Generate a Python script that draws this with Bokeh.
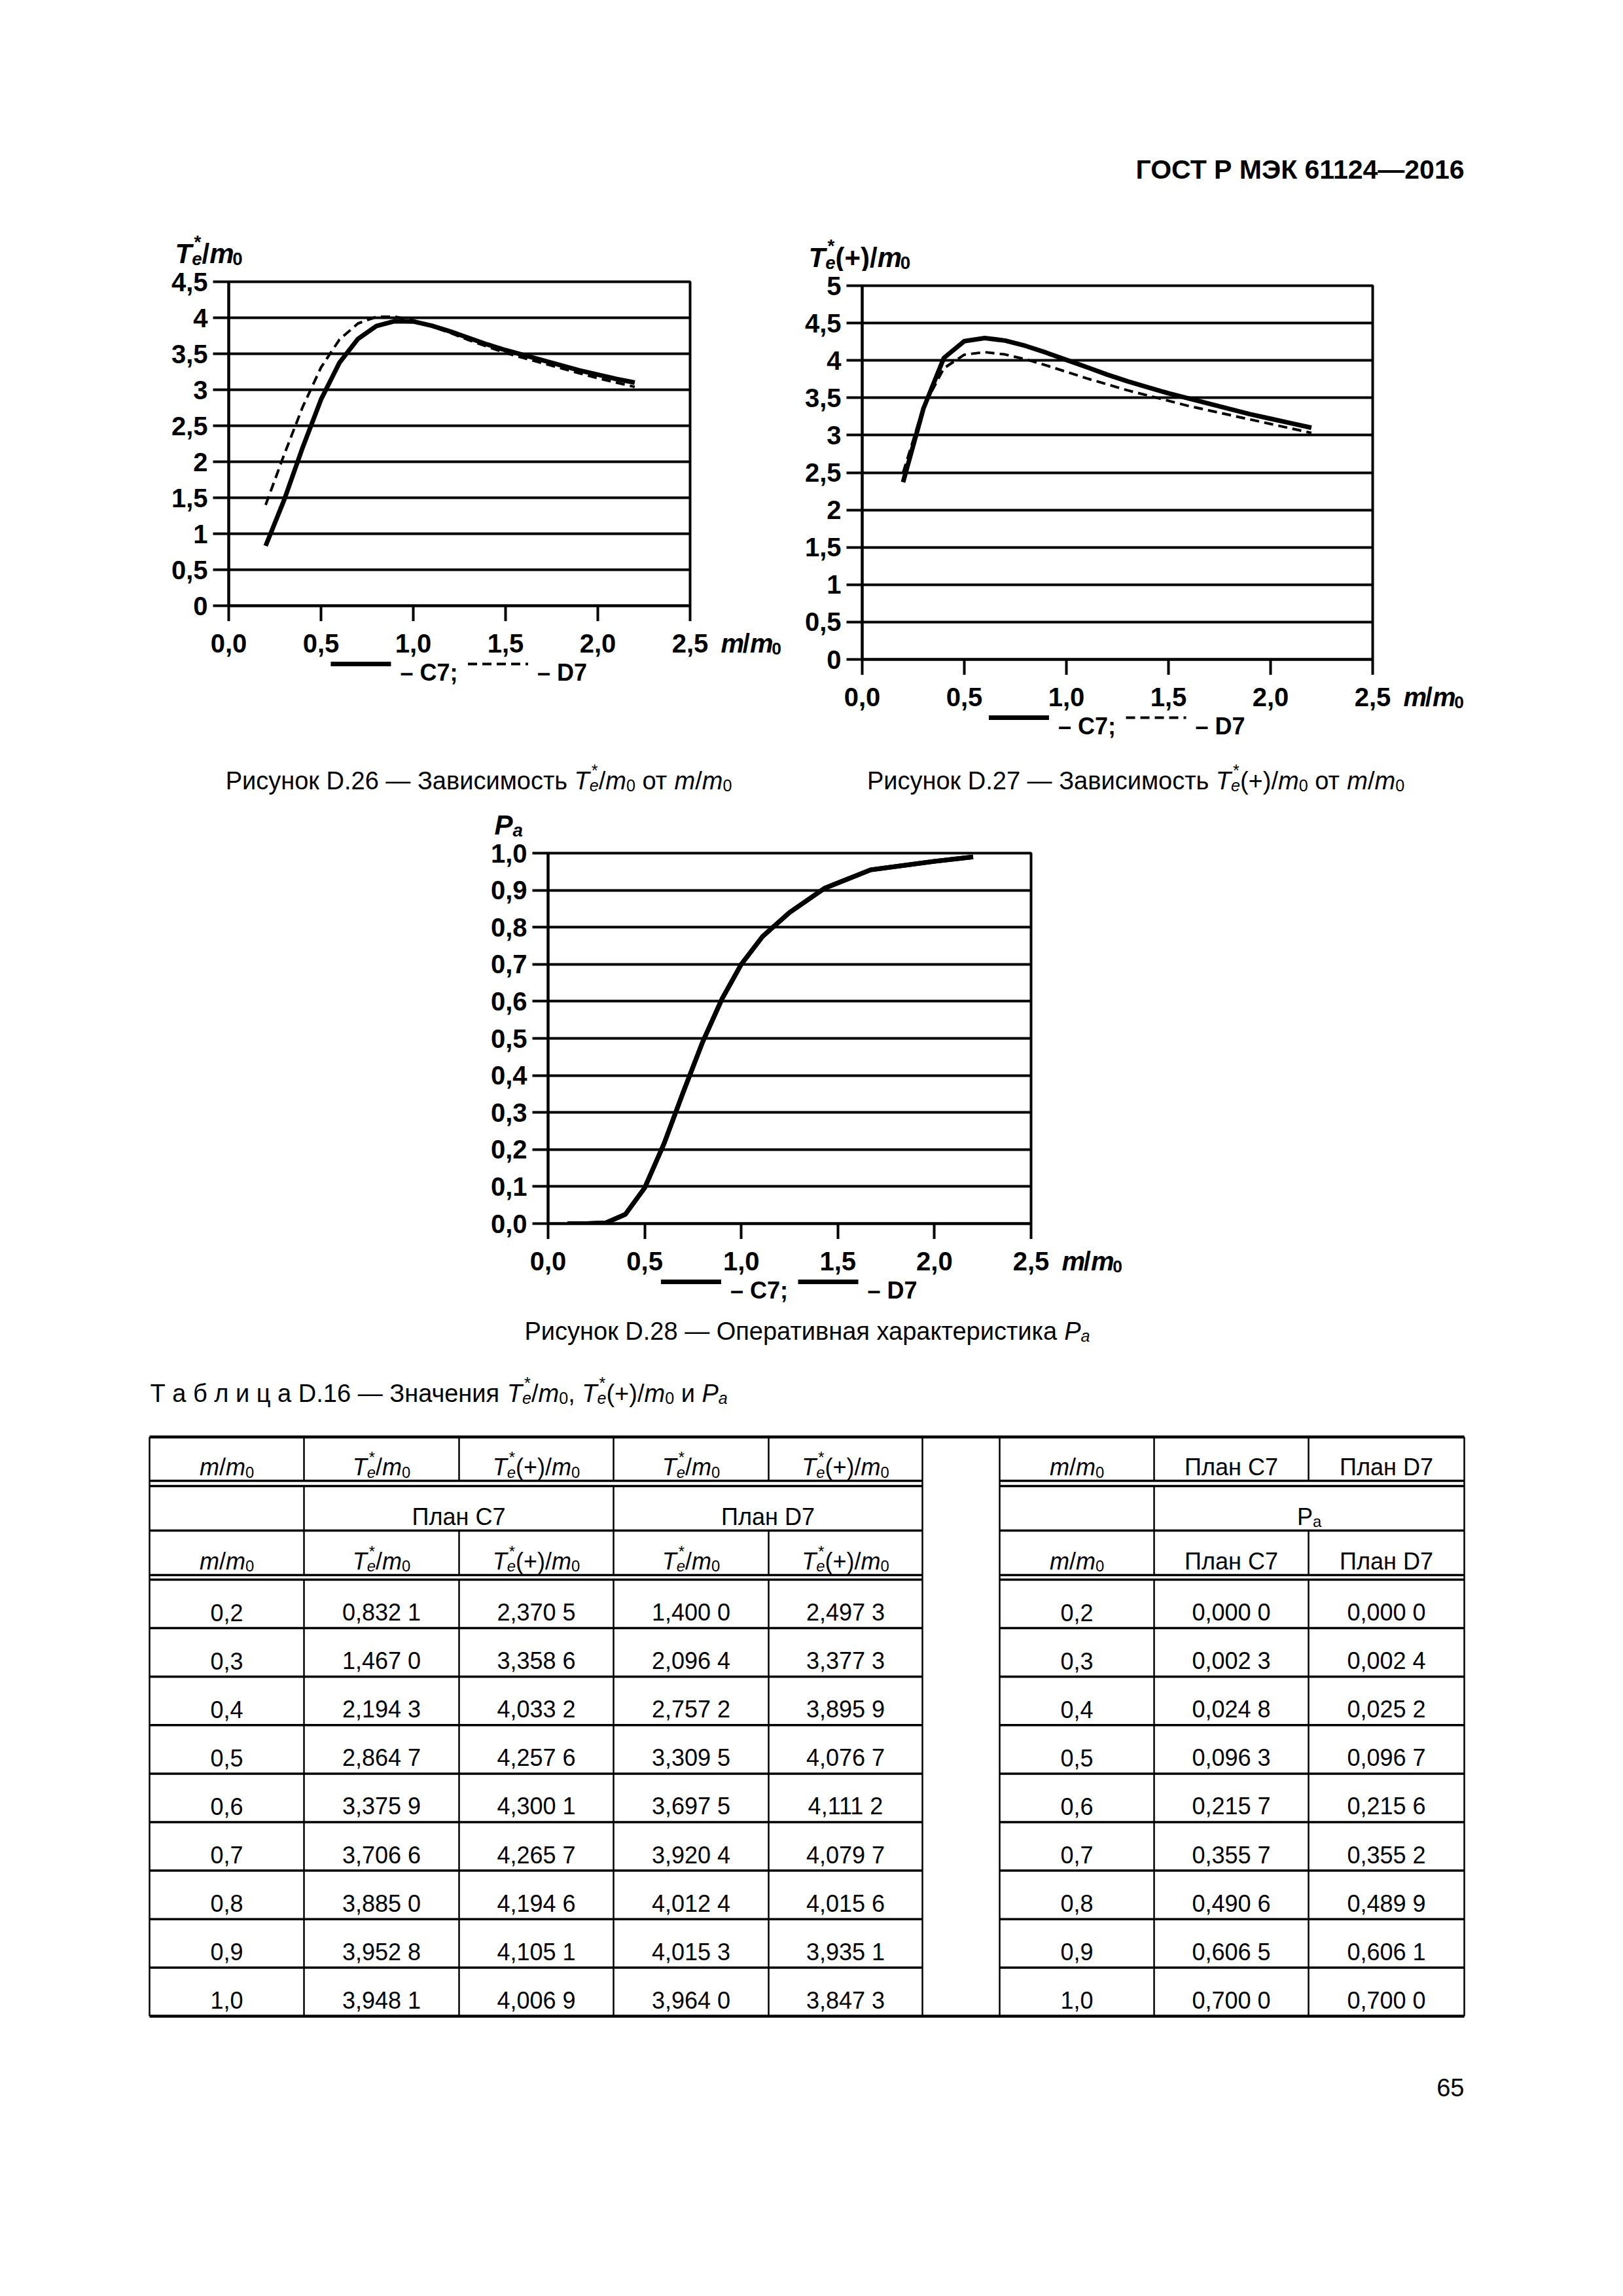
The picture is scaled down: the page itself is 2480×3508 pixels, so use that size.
from bokeh.plotting import figure
from bokeh.models import (Range1d, LinearAxis, FixedTicker, CustomJSTickFormatter, Grid, Spacer)
from bokeh.layouts import column, row
from bokeh.core.properties import value
from bokeh.embed import file_html
from bokeh.resources import INLINE

FONT = "Liberation Sans"

# ---------------- data ----------------
tbl_m = [0.2, 0.3, 0.4, 0.5, 0.6, 0.7, 0.8, 0.9, 1.0]
tbl_te_c7 = [0.8321, 1.4670, 2.1943, 2.8647, 3.3759, 3.7066, 3.8850, 3.9528, 3.9481]
tbl_tep_c7 = [2.3705, 3.3586, 4.0332, 4.2576, 4.3001, 4.2657, 4.1946, 4.1051, 4.0069]
tbl_te_d7 = [1.4000, 2.0964, 2.7572, 3.3095, 3.6975, 3.9204, 4.0124, 4.0153, 3.9640]
tbl_tep_d7 = [2.4973, 3.3773, 3.8959, 4.0767, 4.1112, 4.0797, 4.0156, 3.9351, 3.8473]
tbl_pa_c7 = [0.0000, 0.0023, 0.0248, 0.0963, 0.2157, 0.3557, 0.4906, 0.6065, 0.7000]
tbl_pa_d7 = [0.0000, 0.0024, 0.0252, 0.0967, 0.2156, 0.3552, 0.4899, 0.6061, 0.7000]

# curve continuation beyond the table
m_ext = [1.1, 1.2, 1.3, 1.4, 1.5, 1.6, 1.7, 1.8, 1.9, 2.0, 2.1, 2.2]
te_c7_ext = [3.89, 3.81, 3.72, 3.63, 3.55, 3.48, 3.41, 3.34, 3.27, 3.21, 3.15, 3.10]
te_d7_ext = [3.88, 3.79, 3.69, 3.60, 3.51, 3.44, 3.37, 3.30, 3.23, 3.16, 3.10, 3.04]
tep_c7_ext = [3.91, 3.81, 3.72, 3.64, 3.56, 3.49, 3.42, 3.35, 3.28, 3.22, 3.16, 3.10]
tep_d7_ext = [3.76, 3.68, 3.60, 3.53, 3.46, 3.39, 3.33, 3.27, 3.21, 3.15, 3.09, 3.03]
pa_m_lo = [0.1]
pa_lo = [0.0]
pa_m_hi = [1.11, 1.25, 1.43, 1.67, 2.0, 2.2]
pa_c7_hi = [0.775, 0.84, 0.905, 0.955, 0.978, 0.99]
pa_d7_hi = [0.775, 0.84, 0.905, 0.955, 0.978, 0.99]

x_ticks = [0, 0.5, 1.0, 1.5, 2.0, 2.5]
x_tick_labels = ["0,0", "0,5", "1,0", "1,5", "2,0", "2,5"]
y1_ticks = [0, 0.5, 1, 1.5, 2, 2.5, 3, 3.5, 4, 4.5]
y1_labels = ["0", "0,5", "1", "1,5", "2", "2,5", "3", "3,5", "4", "4,5"]
y2_ticks = [0, 0.5, 1, 1.5, 2, 2.5, 3, 3.5, 4, 4.5, 5]
y2_labels = ["0", "0,5", "1", "1,5", "2", "2,5", "3", "3,5", "4", "4,5", "5"]
y3_ticks = [0, 0.1, 0.2, 0.3, 0.4, 0.5, 0.6, 0.7, 0.8, 0.9, 1.0]
y3_labels = ["0,0", "0,1", "0,2", "0,3", "0,4", "0,5", "0,6", "0,7", "0,8", "0,9", "1,0"]
legend_labels = ["– C7;", "– D7"]

m_curve = tbl_m + m_ext
te_c7 = tbl_te_c7 + te_c7_ext
te_d7 = tbl_te_d7 + te_d7_ext
tep_c7 = tbl_tep_c7 + tep_c7_ext
tep_d7 = tbl_tep_d7 + tep_d7_ext
pa_m = pa_m_lo + tbl_m + pa_m_hi
pa_c7 = pa_lo + tbl_pa_c7 + pa_c7_hi
pa_d7 = pa_lo + tbl_pa_d7 + pa_d7_hi

# ---------------- text helpers ----------------
W = {' ': .278, ',': .278, '.': .278, '/': .278, '(': .333, ')': .333, '+': .584, '*': .389,
     '–': .556, '—': 1.0, ';': .3, 'T': .611, 'e': .556, 'm': .833, 'P': .667, 'a': .556,
     'D': .722, 'C': .722,
     'а': .556, 'б': .573, 'в': .531, 'г': .365, 'д': .583, 'е': .556, 'ж': .669, 'з': .458,
     'и': .559, 'й': .559, 'к': .438, 'л': .583, 'м': .688, 'н': .552, 'о': .556, 'п': .542,
     'р': .556, 'с': .5, 'т': .458, 'у': .5, 'ф': .823, 'х': .5, 'ц': .583, 'ч': .521,
     'ш': .802, 'щ': .823, 'ъ': .625, 'ы': .719, 'ь': .521, 'э': .51, 'ю': .75, 'я': .542,
     'Р': .667, 'З': .6, 'О': .778, 'Т': .611, 'П': .719, 'Г': .552, 'С': .722}


def tw(s):
    return sum(W.get(c, .556) for c in s)


SUB = 0.66


def layout_rich(tokens, size, bold=False):
    out = []
    x = 0.0
    for txt, mode, it in tokens:
        st = "italic" if it else "normal"
        if bold:
            st = "bold italic" if it else "bold"
        if mode == "n":
            stripped = txt.lstrip(" ")
            x += (len(txt) - len(stripped)) * W[' '] * size
            out.append((x, 0.0, stripped.rstrip(" "), size, st))
            x += tw(stripped) * size
        elif mode == "sub":
            s = size * SUB
            out.append((x, 0.2 * size, txt, s, st))
            x += tw(txt) * s
        else:  # subsup
            sub, sup = txt
            s = size * SUB
            out.append((x, 0.2 * size, sub, s, st))
            out.append((x + 0.08 * size, -0.42 * size, sup, s, "bold" if bold else "normal"))
            x += max(tw(sub), tw(sup)) * s
    return out, x


TE = [("T", "n", True), (("e", "*"), "subsup", True)]
SL_M0 = [("/", "n", False), ("m", "n", True), ("0", "sub", False)]
PLUS = [("(+)", "n", False)]
PA = [("P", "n", True), ("a", "sub", True)]
MM0 = [("m", "n", True), ("/", "n", False), ("m", "n", True), ("0", "sub", False)]


class Batch:
    def __init__(self):
        self.groups = {}

    def add(self, x, y, s, size, style="normal", align="left"):
        key = (round(size, 1), style, align)
        g = self.groups.setdefault(key, ([], [], []))
        g[0].append(x)
        g[1].append(y)
        g[2].append(s)

    def rich(self, tokens, x, y, size, align="left", kx=1.0, bold=False):
        pieces, w = layout_rich(tokens, size, bold)
        if align == "center":
            x -= w / 2 * kx
        elif align == "right":
            x -= w * kx
        for dx, dy, t, s, st in pieces:
            self.add(x + dx * kx, y + dy, t, s, st)

    def flush(self, p):
        for (size, style, align), (xs, ys, ts) in self.groups.items():
            p.text(x=xs, y=ys, text=ts, text_font=value(FONT), text_font_size=f"{size}px",
                   text_font_style=style, text_align=align, text_baseline="alphabetic",
                   text_color="black")


def blank_fig(w, h, xr, yr):
    p = figure(width=int(w), height=int(h), x_range=Range1d(*xr), y_range=Range1d(*yr),
               x_axis_type=None, y_axis_type=None, output_backend="svg",
               toolbar_location=None, min_border=0)
    p.outline_line_color = None
    p.background_fill_color = "white"
    p.border_fill_color = "white"
    return p


def text_fig(ox, oy, w, h):
    """A blank canvas whose data coordinates are page pixels (y downwards)."""
    return blank_fig(w, h, (ox, ox + w), (oy + h, oy))


def fmt(ticks, labels):
    return CustomJSTickFormatter(args=dict(tv=ticks, tl=labels), code="""
        const i = tv.findIndex(t => Math.abs(t - tick) < 1e-6);
        return i < 0 ? '' : tl[i];""")


TICK_FS = 40
LEG_FS = 36
LEG_GLYPH = 92
LEG_STANDOFF = 14
LEG_SPACING = 15


def chart_block(ox, oy, w, h, L, R, T, B, xr, yr, yt, ytl, ytitle, series):
    fig_top = T - 22
    fig_bot = B + 24

    # title strip above the frame
    title = text_fig(ox, oy, w, fig_top - oy)
    tb = Batch()
    tb.rich(ytitle, L - 82, T - 43, 42, bold=True)
    tb.flush(title)

    # the chart itself
    p = figure(width=w, height=fig_bot - fig_top, x_range=Range1d(*xr),
               y_range=Range1d(*yr), x_axis_type=None, y_axis_type=None,
               output_backend="svg", toolbar_location=None)
    p.min_border_left = L - ox
    p.min_border_right = ox + w - R
    p.min_border_top = T - fig_top
    p.min_border_bottom = fig_bot - B
    p.background_fill_color = "white"
    p.border_fill_color = "white"
    p.outline_line_color = "black"
    p.outline_line_width = 4
    xa = LinearAxis(ticker=FixedTicker(ticks=x_ticks),
                    formatter=CustomJSTickFormatter(code="return '';"))
    ya = LinearAxis(ticker=FixedTicker(ticks=yt), formatter=fmt(yt, ytl))
    for a in (xa, ya):
        a.axis_line_color = "black"
        a.axis_line_width = 4
        a.major_tick_line_color = "black"
        a.major_tick_line_width = 4
        a.major_tick_out = 24
        a.major_tick_in = 0
        a.minor_tick_out = 0
        a.minor_tick_in = 0
        a.major_label_text_font = FONT
        a.major_label_text_font_style = "bold"
        a.major_label_text_color = "black"
    xa.major_label_text_font_size = "0px"
    xa.major_label_standoff = 0
    ya.major_label_text_font_size = f"{TICK_FS}px"
    ya.major_label_standoff = 8
    p.add_layout(xa, "below")
    p.add_layout(ya, "left")
    p.add_layout(Grid(dimension=1, ticker=ya.ticker, grid_line_color="black", grid_line_width=4))
    for xs, ys, style in series:
        p.line(xs, ys, line_color="black", line_join="round", **style)

    # strip below: x tick labels (same x scale as the chart), axis title, legend
    k = (xr[1] - xr[0]) / (R - L)
    xd0 = xr[0] - (L - ox) * k
    xd1 = xr[0] + (ox + w - L) * k
    sh = oy + h - fig_bot
    strip = blank_fig(w, sh, (xd0, xd1), (oy + h, fig_bot))
    sb = Batch()
    for t, lab in zip(x_ticks, x_tick_labels):
        sb.add(t, B + 57, lab, TICK_FS, "bold", "center")
    sb.rich(MM0, xr[1] + 47 * k, B + 57, 40, kx=k, bold=True)
    widths = [tw(t) * LEG_FS * 1.02 for t in legend_labels]
    total = 2 * LEG_GLYPH + 2 * LEG_STANDOFF + sum(widths) + LEG_SPACING
    x = (L + R) / 2 - total / 2
    cy = B + 89
    for (xs, ys, style), lab, wl in zip(series, legend_labels, widths):
        gx0 = xr[0] + (x - L) * k
        strip.line([gx0, gx0 + LEG_GLYPH * k], [cy, cy], line_color="black", **style)
        sb.add(gx0 + (LEG_GLYPH + LEG_STANDOFF) * k, cy + 13, lab, LEG_FS, "bold")
        x += LEG_GLYPH + LEG_STANDOFF + wl + LEG_SPACING
    sb.flush(strip)

    # wrap each piece in its own row so the layout does not align their frames
    return column(row(title), row(p), row(strip))


SOLID = dict(line_width=7)
DASHED = dict(line_width=4, line_dash="14 8")

# ---------------- page top ----------------
top = text_fig(8, 8, 2464, 332)
tb = Batch()
tb.add(2245, 266, "ГОСТ Р МЭК 61124—2016", 41, "bold", "right")
tb.flush(top)

# ---------------- charts D.26 and D.27 ----------------
blk1 = chart_block(8, 340, 1222, 820, 357, 1062, 438, 933, (0, 2.5), (0, 4.5), y1_ticks,
                   y1_labels, TE + SL_M0,
                   [(m_curve, te_c7, SOLID), (m_curve, te_d7, DASHED)])
blk2 = chart_block(1230, 340, 1242, 820, 1325, 2105, 444, 1015, (0, 2.5), (0, 5), y2_ticks,
                   y2_labels, TE + PLUS + SL_M0,
                   [(m_curve, tep_c7, SOLID), (m_curve, tep_d7, DASHED)])

# ---------------- captions ----------------
mid = text_fig(8, 1160, 2464, 75)
mb = Batch()
cap1 = [("Рисунок D.26 — Зависимость ", "n", False)] + TE + SL_M0 + [(" от ", "n", False)] + MM0
cap2 = [("Рисунок D.27 — Зависимость ", "n", False)] + TE + PLUS + SL_M0 + [(" от ", "n", False)] + MM0
mb.rich(cap1, 739, 1200, 38, "center")
mb.rich(cap2, 1743, 1200, 38, "center")
mb.flush(mid)

# ---------------- chart D.28 ----------------
blk3 = chart_block(700, 1235, 1100, 775, 845, 1583, 1311, 1877, (0, 2.5), (0, 1.0), y3_ticks,
                   y3_labels, PA,
                   [(pa_m, pa_c7, SOLID), (pa_m, pa_d7, SOLID)])

# ---------------- bottom: caption, table ----------------
bot = text_fig(8, 2010, 2464, 1490)
bb = Batch()
bb.rich([("Рисунок D.28 — Оперативная характеристика ", "n", False)] + PA, 1241, 2041, 38, "center")
bb.rich([("Т а б л и ц а D.16 — Значения ", "n", False)] + TE + SL_M0 + [(", ", "n", False)]
        + TE + PLUS + SL_M0 + [(" и ", "n", False)] + PA, 237, 2136, 38, "left")

edges = [236, 472, 709, 945, 1182, 1417, 1535, 1771, 2007, 2245]
top_y, h1a, h1b, h2, h3a, h3b = 2203, 2270, 2278, 2346, 2414, 2421
row_h = 74.1
n = len(tbl_m)
bottom_y = h3b + n * row_h
blocks = [(edges[0], edges[5]), (edges[6], edges[9])]

hx0, hy0, hx1, hy1 = [], [], [], []
for yy in [h1a, h1b, h2, h3a, h3b] + [h3b + row_h * k for k in range(1, n)]:
    for a, b in blocks:
        hx0.append(a); hx1.append(b); hy0.append(yy); hy1.append(yy)
bot.segment(x0=hx0, y0=hy0, x1=hx1, y1=hy1, line_color="black", line_width=3.5)
bot.segment(x0=[edges[0], edges[0]], y0=[top_y, bottom_y], x1=[edges[9], edges[9]],
            y1=[top_y, bottom_y], line_color="black", line_width=4.5)

vx0, vy0, vx1, vy1 = [], [], [], []
for e in [edges[0], edges[5], edges[6], edges[9]]:
    vx0.append(e); vx1.append(e); vy0.append(top_y); vy1.append(bottom_y)
inner = [edges[1], edges[2], edges[3], edges[4], edges[7], edges[8]]
inner_row2 = [edges[1], edges[3], edges[7]]
for ya_, yb_, es in [(top_y, h1a, inner), (h1b, h2, inner_row2), (h2, h3a, inner),
                     (h3b, bottom_y, inner)]:
    for e in es:
        vx0.append(e); vx1.append(e); vy0.append(ya_); vy1.append(yb_)
bot.segment(x0=vx0, y0=vy0, x1=vx1, y1=vy1, line_color="black", line_width=2.5)

TS = 36
hdr = [MM0, TE + SL_M0, TE + PLUS + SL_M0, TE + SL_M0, TE + PLUS + SL_M0, None,
       MM0, [("План С7", "n", False)], [("План D7", "n", False)]]
for cy in [(top_y + h1a) / 2, (h2 + h3a) / 2]:
    for i, tok in enumerate(hdr):
        if tok is None:
            continue
        cx = (edges[i] + edges[i + 1]) / 2
        bb.rich(tok, cx, cy + 0.36 * TS, TS, "center")
cy2 = (h1b + h2) / 2 + 0.36 * TS
bb.rich([("План С7", "n", False)], (edges[1] + edges[3]) / 2, cy2, TS, "center")
bb.rich([("План D7", "n", False)], (edges[3] + edges[5]) / 2, cy2, TS, "center")
bb.rich([("P", "n", False), ("a", "sub", False)], (edges[7] + edges[9]) / 2, cy2, TS, "center")


def f1d(v):
    return f"{v:.1f}".replace(".", ",")


def f4d(v):
    s = f"{v:.4f}".replace(".", ",")
    return s[:-1] + " " + s[-1]


cols = [tbl_m, tbl_te_c7, tbl_tep_c7, tbl_te_d7, tbl_tep_d7, None, tbl_m, tbl_pa_c7, tbl_pa_d7]
for k in range(n):
    cy = h3b + row_h * (k + 0.5) + 0.36 * TS
    for i, col in enumerate(cols):
        if col is None:
            continue
        s = f1d(col[k]) if col is tbl_m else f4d(col[k])
        bb.add((edges[i] + edges[i + 1]) / 2, cy, s, TS, "normal", "center")

bb.add(2245, 3197, "65", 38, "normal", "right")
bb.flush(bot)

page = column(top, row(blk1, blk2), mid, row(Spacer(width=692, height=775), blk3), bot)

with open("out.html", "w") as fh:
    fh.write(file_html(page, INLINE, title="ГОСТ Р МЭК 61124—2016"))
